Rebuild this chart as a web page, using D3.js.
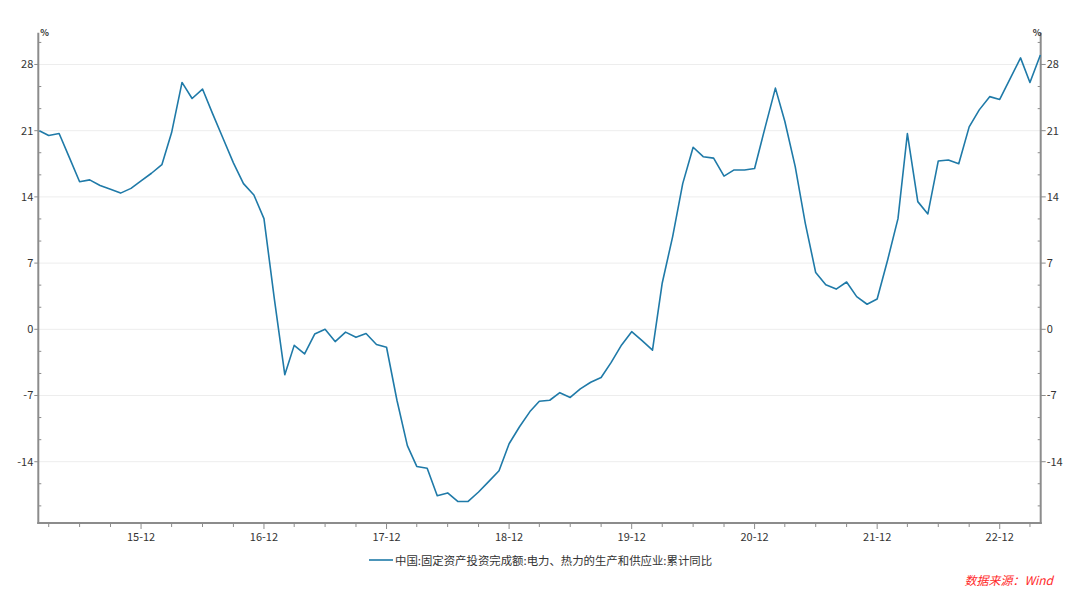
<!DOCTYPE html>
<html><head><meta charset="utf-8">
<script src="https://cdn.jsdelivr.net/npm/d3@7"></script>
<style>
html,body{margin:0;padding:0;background:#fff;}
svg{display:block;font-family:"Noto Sans CJK SC","Noto Sans",sans-serif;}
</style></head>
<body>
<svg id="chart" width="1080" height="590"></svg>
<script>
// ---- data ----
const startMonth = "2015-02";
const endMonth = "2023-04";
const seriesName = "中国:固定资产投资完成额:电力、热力的生产和供应业:累计同比";
const values = [
  21.0, 20.5, 20.7, 18.2, 15.6, 15.8, 15.2, 14.8, 14.4, 14.9, 15.7,
  16.5, 17.4, 20.8, 26.1, 24.4, 25.4, 22.8, 20.2, 17.6, 15.4, 14.2, 11.7,
  3.2, -4.8, -1.7, -2.6, -0.5, 0.0, -1.3, -0.3, -0.85, -0.45, -1.6, -1.9,
  -7.5, -12.3, -14.5, -14.7, -17.6, -17.3, -18.2, -18.2, -17.2, -16.1, -14.95, -12.1,
  -10.3, -8.7, -7.6, -7.5, -6.7, -7.2, -6.3, -5.6, -5.1, -3.5, -1.65, -0.25,
  -1.2, -2.2, 4.9, 9.8, 15.4, 19.25, 18.25, 18.1, 16.2, 16.85, 16.85, 17.0,
  21.3, 25.5, 22.0, 17.2, 11.2, 6.0, 4.7, 4.25, 5.0, 3.45, 2.65, 3.2,
  7.3, 11.7, 20.7, 13.5, 12.2, 17.8, 17.9, 17.5, 21.4, 23.2, 24.6, 24.3,
  26.5, 28.7, 26.1, 29.0
];
const yTicks = [-14, -7, 0, 7, 14, 21, 28];
const yMinorTicks = [-18.67, -16.33, -11.67, -9.33, -4.67, -2.33, 2.33, 4.67, 9.33, 11.67, 16.33, 18.67, 23.33, 25.67, 30.33];
const unitLabel = "%";
const sourceText = "数据来源：Wind";

// ---- layout ----
const parse = d3.timeParse("%Y-%m");
const t0 = parse(startMonth), t1 = parse(endMonth);
const months = d3.timeMonth.range(t0, d3.timeMonth.offset(t1, 1));
const data = months.map((d, i) => ({date: d, value: values[i]}));

const L = 38.3, R = 1040.7, T = 32.7, B = 523;
const x = d3.scaleTime()
  .domain([d3.timeDay.offset(t0, -3), d3.timeDay.offset(t1, 1)])
  .range([L, R]);
const y = d3.scaleLinear().domain([-20.48, 31.36]).range([B, T]);

const svg = d3.select("#chart");
const axisColor = "#8c8c8c";
const textColor = "#333";

// gridlines
svg.append("g").selectAll("line").data(yTicks).join("line")
  .attr("x1", L).attr("x2", R)
  .attr("y1", d => y(d)).attr("y2", d => y(d))
  .attr("stroke", "#ededed").attr("stroke-width", 1);

// left axis
const gl = svg.append("g");
gl.append("line").attr("x1", L).attr("x2", L).attr("y1", T).attr("y2", B + 1)
  .attr("stroke", axisColor).attr("stroke-width", 2);
gl.selectAll("line.mj").data(yTicks).join("line").attr("class", "mj")
  .attr("x1", L - 4).attr("x2", L).attr("y1", d => y(d)).attr("y2", d => y(d))
  .attr("stroke", axisColor).attr("stroke-width", 1);
gl.selectAll("line.mn").data(yMinorTicks).join("line").attr("class", "mn")
  .attr("x1", L).attr("x2", L + 3).attr("y1", d => y(d)).attr("y2", d => y(d))
  .attr("stroke", axisColor).attr("stroke-width", 1);
gl.selectAll("text.tl").data(yTicks).join("text").attr("class", "tl")
  .attr("x", L - 5).attr("y", d => y(d)).attr("dy", "0.35em")
  .attr("text-anchor", "end").attr("font-size", 11).attr("fill", textColor)
  .text(d => d);
gl.append("text").attr("x", L + 2).attr("y", T + 3).attr("font-size", 9)
  .attr("font-weight", "bold").attr("fill", textColor).text(unitLabel);

// right axis
const gr = svg.append("g");
gr.append("line").attr("x1", R).attr("x2", R).attr("y1", T).attr("y2", B + 1)
  .attr("stroke", axisColor).attr("stroke-width", 2);
gr.selectAll("line.mj").data(yTicks).join("line").attr("class", "mj")
  .attr("x1", R).attr("x2", R + 5).attr("y1", d => y(d)).attr("y2", d => y(d))
  .attr("stroke", axisColor).attr("stroke-width", 1);
gr.selectAll("line.mn").data(yMinorTicks).join("line").attr("class", "mn")
  .attr("x1", R - 3).attr("x2", R).attr("y1", d => y(d)).attr("y2", d => y(d))
  .attr("stroke", axisColor).attr("stroke-width", 1);
gr.selectAll("text.tl").data(yTicks).join("text").attr("class", "tl")
  .attr("x", R + 6).attr("y", d => y(d)).attr("dy", "0.35em")
  .attr("text-anchor", "start").attr("font-size", 11).attr("fill", textColor)
  .text(d => d);
gr.append("text").attr("x", R - 8).attr("y", T + 3).attr("font-size", 9)
  .attr("font-weight", "bold").attr("fill", textColor).text(unitLabel);

// bottom axis
const qTicks = months.filter(d => d.getMonth() % 3 === 2);
const fmt = d3.timeFormat("%y-%m");
const gb = svg.append("g");
gb.append("line").attr("x1", L - 1).attr("x2", R + 1).attr("y1", B).attr("y2", B)
  .attr("stroke", axisColor).attr("stroke-width", 2);
gb.selectAll("line.t").data(qTicks).join("line").attr("class", "t")
  .attr("x1", d => x(d)).attr("x2", d => x(d))
  .attr("y1", B).attr("y2", d => B + (d.getMonth() === 11 ? 6 : 4))
  .attr("stroke", axisColor).attr("stroke-width", 1);
gb.selectAll("text").data(qTicks.filter(d => d.getMonth() === 11)).join("text")
  .attr("x", d => x(d)).attr("y", B + 18)
  .attr("text-anchor", "middle").attr("font-size", 11).attr("fill", textColor)
  .text(d => fmt(d));

// line
const line = d3.line().x(d => x(d.date)).y(d => y(d.value));
svg.append("path").datum(data).attr("d", line)
  .attr("fill", "none").attr("stroke", "#1f7aa8").attr("stroke-width", 1.6)
  .attr("stroke-linejoin", "round");

// legend
const lg = svg.append("g");
lg.append("line").attr("x1", 369).attr("x2", 393).attr("y1", 560).attr("y2", 560)
  .attr("stroke", "#1f7aa8").attr("stroke-width", 1.6);
lg.append("text").attr("x", 395).attr("y", 564.5).attr("font-size", 11.4)
  .attr("fill", textColor).text(seriesName);

// source
svg.append("text").attr("x", 1053).attr("y", 585).attr("text-anchor", "end")
  .attr("font-size", 12).attr("font-style", "italic").attr("fill", "#ff2a2a")
  .text(sourceText);
</script>
</body></html>
